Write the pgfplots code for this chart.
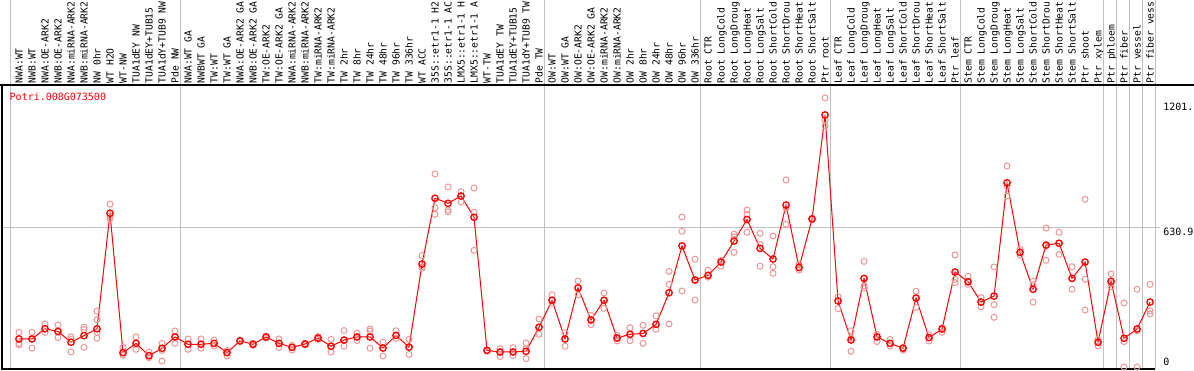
\documentclass[border=0pt]{standalone}
\usepackage{fontspec}
\usepackage{pgfplots}
\pgfplotsset{compat=1.18}
\newfontfamily\mono{DejaVu Sans Mono}
\definecolor{reppink}{RGB}{236,150,150}
\definecolor{gridgray}{RGB}{192,192,192}
\pgfplotstableread{
x y
0 127
1 127
2 173
3 161
4 112
5 142
6 173
7 696
8 65
9 107
10 51
11 85
12 136
13 103
14 103
15 107
16 65
17 118
18 103
19 136
20 107
21 89
22 104
23 131
24 94
25 122
26 136
27 136
28 86
29 143
30 90
31 466
32 764
33 741
34 774
35 678
36 75
37 68
38 68
39 71
40 180
41 302
42 127
43 358
44 213
45 302
46 131
47 148
48 152
49 193
50 336
51 548
52 394
53 415
54 475
55 570
56 668
57 537
58 489
59 733
60 451
61 670
62 1141
63 299
64 122
65 401
66 136
67 107
68 85
69 312
70 133
71 172
72 430
73 386
74 294
75 321
76 834
77 519
78 352
79 552
80 560
81 401
82 475
83 112
84 388
85 130
86 172
87 294
}\means
\pgfplotstableread{
x y
0 157
0 107
0 100
1 157
1 85
1 127
2 195
2 157
2 173
3 190
3 133
3 161
4 137
4 68
4 125
5 180
5 169
5 89
6 253
6 214
6 157
6 130
7 737
7 684
7 673
8 89
8 54
8 65
9 136
9 80
9 107
10 67
10 42
10 54
11 107
11 75
11 27
12 163
12 107
12 136
13 127
13 80
13 103
14 127
14 85
14 103
15 122
15 95
15 107
16 74
16 50
16 65
17 120
17 116
17 122
18 107
18 98
18 103
19 139
19 131
19 137
20 127
20 89
20 107
21 98
21 77
21 89
22 107
22 100
22 104
23 138
23 125
23 131
24 125
24 68
24 94
25 165
25 94
25 122
26 154
26 120
26 136
27 172
27 163
27 85
28 112
28 50
28 86
29 164
29 130
29 143
30 125
30 57
30 90
31 504
31 454
31 447
32 874
32 721
32 691
33 815
33 711
33 703
34 794
34 747
34 774
35 810
35 700
35 528
36 75
36 73
36 77
37 83
37 47
37 68
38 88
38 52
38 68
39 109
39 38
39 83
40 217
40 148
40 180
41 327
41 288
41 302
42 155
42 94
42 127
43 389
43 327
43 358
44 234
44 192
44 213
45 335
45 266
45 302
46 143
46 118
46 131
47 178
47 119
47 148
48 189
48 107
48 152
49 232
49 171
49 193
50 433
50 374
50 195
51 679
51 614
51 344
52 488
52 303
52 394
53 438
53 407
53 415
54 483
54 456
54 475
55 602
55 519
55 589
56 711
56 610
56 691
57 605
57 456
57 555
58 593
58 454
58 424
59 847
59 646
59 718
60 466
60 439
60 448
61 674
61 666
61 670
62 1218
62 1118
62 1092
63 318
63 264
63 299
64 164
64 71
64 131
65 478
65 367
65 358
66 148
66 115
66 136
67 125
67 95
67 107
68 89
68 77
68 85
69 343
69 270
69 312
70 146
70 118
70 133
71 178
71 157
71 172
72 507
72 382
72 397
73 410
73 374
73 386
74 314
74 272
74 294
75 453
75 282
75 225
76 910
76 774
76 818
77 533
77 507
77 519
78 389
78 294
78 373
79 629
79 483
79 548
80 610
80 510
80 560
81 454
81 352
81 401
82 759
82 397
82 258
83 125
83 95
83 112
84 421
84 364
84 379
85 290
85 115
85 0
86 352
86 0
86 164
87 374
87 255
87 240
}\reps
\begin{document}
\begin{tikzpicture}
\useasboundingbox (0,0) rectangle (1194pt,370pt);
\clip (0,0) rectangle (1194pt,370pt);
\begin{axis}[
  at={(2pt,1pt)}, anchor=south west,
  scale only axis, width=1153pt, height=284pt,
  xmin=-1.3077, xmax=87.3846, ymin=-9.05, ymax=1276.6,
  clip=false,
  axis line style={draw=none},
  ytick=\empty,
  xtick={0,...,87},
  xticklabels={NWA:WT,NWB:WT,NWA:OE-ARK2,NWB:OE-ARK2,NWA:miRNA-ARK2,NWB:miRNA-ARK2,NW 0hr,WT H2O,WT-NW,TUA1dEY NW,TUA1dEY+TUB15,TUA1dY+TUB9 NW,Pde NW,
    NWA:WT GA,NWBWT GA,TW:WT,TW:WT GA,NWA:OE-ARK2 GA,NWB:OE-ARK2 GA,TW:OE-ARK2,TW:OE-ARK2 GA,NWA:miRNA-ARK2,NWB:miRNA-ARK2,TW:miRNA-ARK2,TW:miRNA-ARK2,TW 2hr,TW 8hr,TW 24hr,TW 48hr,TW 96hr,TW 336hr,WT ACC,35S::etr1-1 H2,35S::etr1-1 AC,LMX5::etr1-1 H,LMX5::etr1-1 A,WT-TW,TUA1dEY TW,TUA1dEY+TUB15,TUA1dY+TUB9 TW,Pde TW,
    OW:WT,OW:WT GA,OW:OE-ARK2,OW:OE-ARK2 GA,OW:miRNA-ARK2,OW:miRNA-ARK2,OW 2hr,OW 8hr,OW 24hr,OW 48hr,OW 96hr,OW 336hr,
    Root CTR,Root LongCold,Root LongDroug,Root LongHeat,Root LongSalt,Root ShortCold,Root ShortDrou,Root ShortHeat,Root ShortSalt,Ptr root,
    Leaf CTR,Leaf LongCold,Leaf LongDroug,Leaf LongHeat,Leaf LongSalt,Leaf ShortCold,Leaf ShortDrou,Leaf ShortHeat,Leaf ShortSalt,Ptr leaf,
    Stem CTR,Stem LongCold,Stem LongDroug,Stem LongHeat,Stem LongSalt,Stem ShortCold,Stem ShortDrou,Stem ShortHeat,Stem ShortSalt,Ptr shoot,Ptr xylem,
    Ptr phloem,Ptr fiber,Ptr vessel,Ptr fiber vess},
  xticklabel pos=upper,
  major tick length=0pt,
  xticklabel style={font=\mono\fontsize{9.7}{9.7}\selectfont, rotate=90, anchor=west, inner xsep=1.5pt, inner ysep=0pt, text height=7.1pt, text depth=0pt},
]
\pgfplotsinvokeforeach{-0.692,12.385,40.385,52.385,62.385,72.385,83.385,84.385,85.385,86.385,87.385}{
  \draw[gridgray, line width=1pt] (axis cs:#1,-9.05) -- (axis cs:#1,1700);
}
\draw[gridgray, line width=1pt] (axis cs:-1.3077,630.9) -- (axis cs:87.8,630.9);
\draw[black, line width=1.6pt] (axis cs:-1.6,1276.6) -- (axis cs:90.5,1276.6);
\draw[black, line width=1.6pt] (axis cs:-1.3077,1276.6) -- (axis cs:-1.3077,-9.05) -- (axis cs:87.3846,-9.05);
\node[anchor=north west, inner sep=0pt, text height=7.3pt, text depth=0pt, font=\mono\fontsize{10}{10}\selectfont, text=red] at (axis cs:-0.73,1240.4) {Potri.008G073500};
\node[anchor=north west, inner sep=0pt, text height=7.3pt, text depth=0pt, font=\mono\fontsize{10}{10}\selectfont] at (axis cs:88.0,1196) {1201.};
\node[anchor=north west, inner sep=0pt, text height=7.3pt, text depth=0pt, font=\mono\fontsize{10}{10}\selectfont] at (axis cs:88.0,628) {630.9};
\node[anchor=north west, inner sep=0pt, text height=7.3pt, text depth=0pt, font=\mono\fontsize{10}{10}\selectfont] at (axis cs:88.0,40.7) {0};
\addplot[only marks, mark=o, mark size=3pt, color=reppink, line width=1pt] table[x=x,y=y] {\reps};
\addplot[red, line width=1pt, mark=o, mark size=3.2pt, mark options={line width=1.3pt, solid}] table[x=x,y=y] {\means};
\end{axis}
\end{tikzpicture}
\end{document}
